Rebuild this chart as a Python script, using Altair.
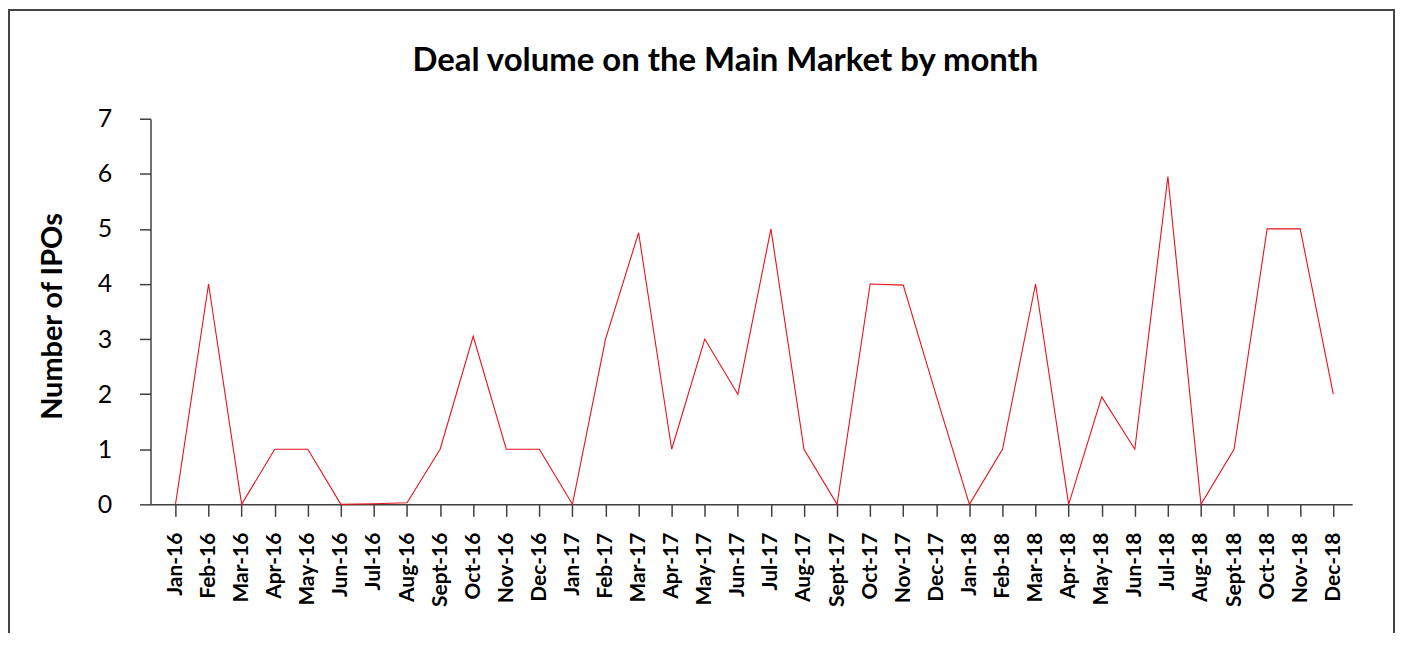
import altair as alt
import pandas as pd

months = ["Jan-16", "Feb-16", "Mar-16", "Apr-16", "May-16", "Jun-16", "Jul-16", "Aug-16",
          "Sept-16", "Oct-16", "Nov-16", "Dec-16",
          "Jan-17", "Feb-17", "Mar-17", "Apr-17", "May-17", "Jun-17", "Jul-17", "Aug-17",
          "Sept-17", "Oct-17", "Nov-17", "Dec-17",
          "Jan-18", "Feb-18", "Mar-18", "Apr-18", "May-18", "Jun-18", "Jul-18", "Aug-18",
          "Sept-18", "Oct-18", "Nov-18", "Dec-18"]
ipos = [0, 4, 0, 1, 1, 0, 0.01, 0.03, 1, 3.05, 1, 1,
        0, 3, 4.93, 1, 3, 2, 5, 1, 0, 4, 3.98, 1.97,
        0, 1, 4, 0, 1.95, 1, 5.95, 0, 1, 5, 5, 2]
y_ticks = [0, 1, 2, 3, 4, 5, 6, 7]
title_text = "Deal volume on the Main Market by month"
y_title = "Number of IPOs"

df = pd.DataFrame({"month": months, "ipos": ipos})

W, H = 1206, 387
FONT = "Lato"

line = alt.Chart(df).mark_line(color="#e8131c", strokeWidth=1.1).encode(
    x=alt.X("month:O", sort=months,
            scale=alt.Scale(type="point", padding=0.663, align=0.57),
            axis=alt.Axis(title=None, labelAngle=-90, labelFontSize=21, labelFont=FONT,
                          labelFontWeight="bold", labelColor="#000", labelPadding=16,
                          tickSize=12, tickColor="#404040", tickWidth=1.5,
                          domainColor="#404040", domainWidth=1.5, grid=False)),
    y=alt.Y("ipos:Q", scale=alt.Scale(domain=[0, 7], nice=False),
            axis=alt.Axis(values=y_ticks, title=y_title, titleFont=FONT, titleFontSize=29,
                          titleFontWeight="bold", titleColor="#000", titleAngle=270,
                          titleX=-98, titleY=198, titleAlign="center", titleBaseline="middle",
                          labelFont=FONT, labelFontSize=25, labelColor="#000", labelPadding=28,
                          tickSize=11, tickColor="#404040", tickWidth=1.5,
                          domainColor="#404040", domainWidth=1.5, grid=False)),
)

one = alt.Data(values=[{"t": title_text}])

border = alt.Chart(one).mark_rect(fill="transparent", stroke="#444", strokeWidth=2).encode(
    x=alt.value(-142), x2=alt.value(1248), y=alt.value(-109), y2=alt.value(700))

title = alt.Chart(one).mark_text(font=FONT, fontSize=33, fontWeight="bold", color="#000",
                                 align="center", baseline="middle").encode(
    x=alt.value(577), y=alt.value(-58), text="t:N")

chart = alt.layer(border, line, title).properties(
    width=W, height=H,
    autosize=alt.AutoSizeParams(type="none"),
    padding={"left": 143, "top": 110, "right": 43, "bottom": 128},
).configure_view(stroke=None)

chart.save("out.html", embed_options={"renderer": "svg", "actions": False})
